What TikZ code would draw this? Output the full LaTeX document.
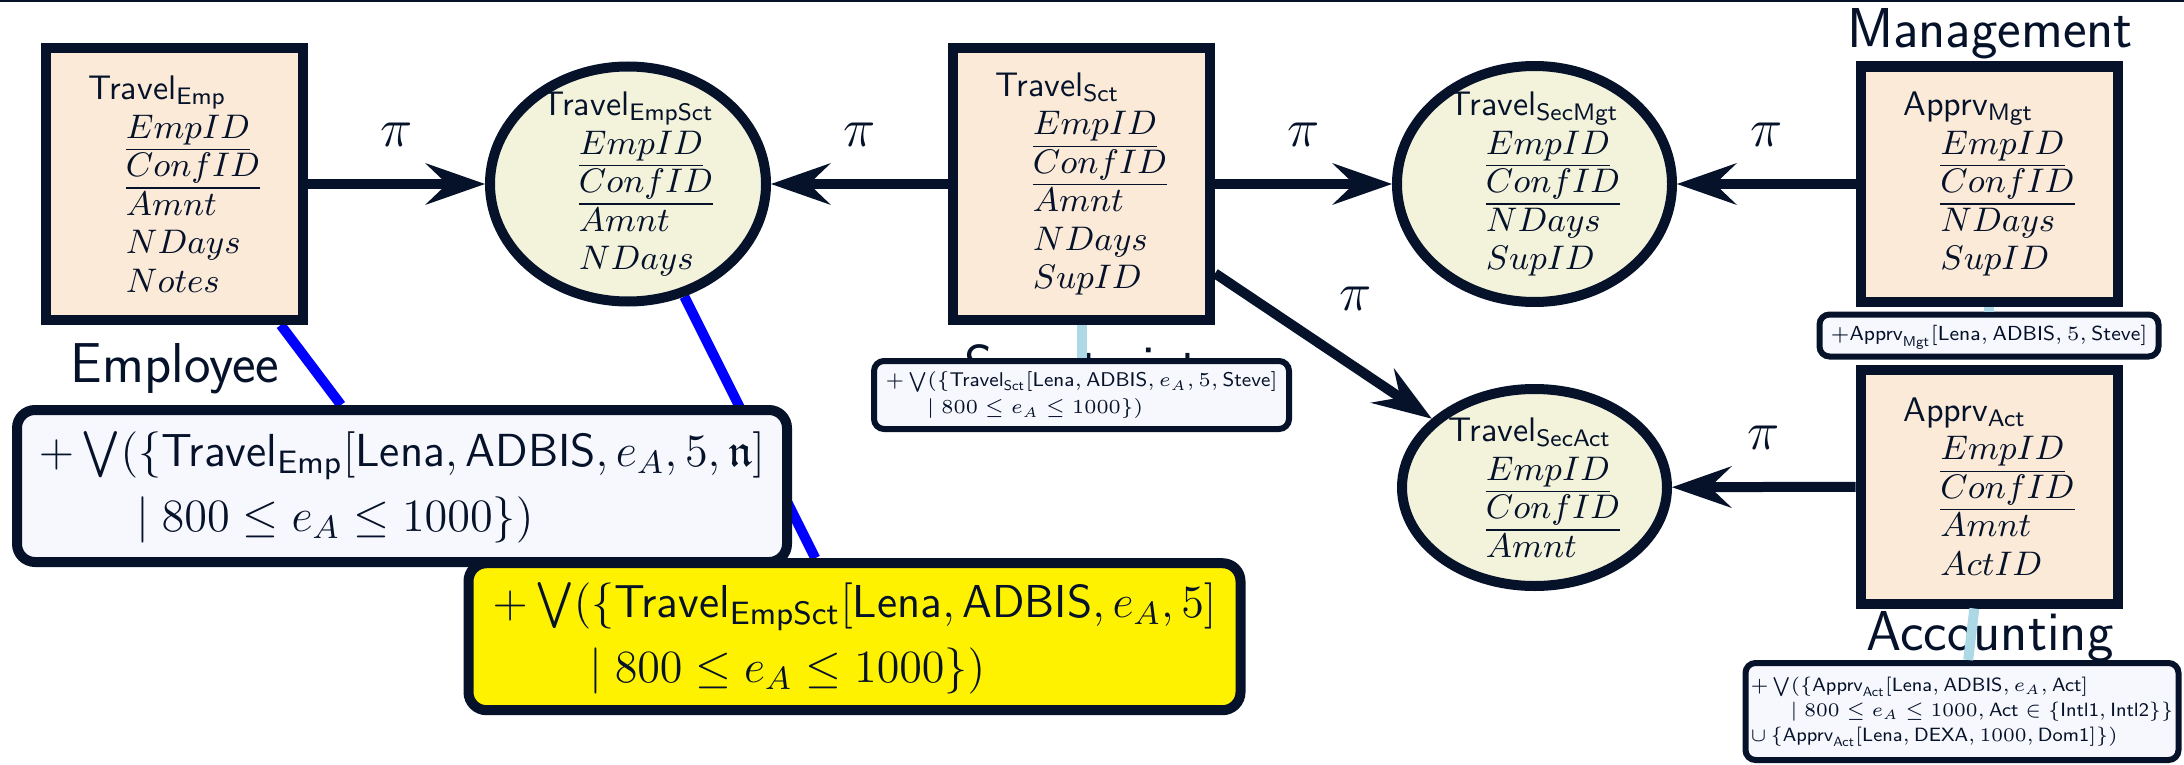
\RequirePackage{fix-cm}
\documentclass[tikz,border=0pt]{standalone}
\usepackage{amsmath, amssymb}
\usetikzlibrary{positioning, arrows.meta, shapes.geometric, backgrounds}
\definecolor{darkNavy}{HTML}{05122A}
\definecolor{relFill}{HTML}{FAEAD7}
\definecolor{viewFill}{HTML}{F3F3DC}
\definecolor{exprFill}{HTML}{F7F8FD}
\definecolor{linkBlue}{HTML}{ADD8E6}
\newcommand{\attr}[1]{\hspace*{0.37cm}$#1$}
\newcommand{\fitexpr}[2]{\resizebox{#1}{!}{\begin{tabular}{@{}l@{}}#2\end{tabular}}}

\begin{document}
\begin{tikzpicture}[darkNavy, node distance=1.77cm,
    relbox/.style={draw, line width=0.1cm, fill=relFill, minimum width=2.57cm,
      align=left, font=\fontsize{9.7}{10.95}\selectfont\sffamily},
    viewellipse/.style={ellipse, draw, line width=0.1cm, fill=viewFill, inner xsep=0pt,
      inner ysep=-0.2cm, align=left, font=\fontsize{9.7}{10.95}\selectfont\sffamily},
    exprbox/.style={draw, line width=0.1cm, rounded corners=0.18cm, fill=exprFill,
      inner sep=0.05cm, font=\fontsize{12.5}{17.6}\selectfont\sffamily},
    smallexpr/.style={exprbox, line width=0.06cm, rounded corners=0.1cm,
      font=\fontsize{6.3}{8.5}\selectfont\sffamily},
    rolelabel/.style={inner sep=0pt, anchor=base, font=\fontsize{16}{19}\selectfont\sffamily},
    projarrow/.style={line width=0.1cm,
      -{Stealth[length=0.6cm, width=0.42cm, inset=0.22cm, line width=0pt]}},
    pilabel/.style={yshift=0.49cm, font=\fontsize{15.5}{18}\selectfont},
    assocline/.style={blue, line width=0.1cm},
    linkline/.style={linkBlue, line width=0.1cm}]
  \useasboundingbox (0,0) rectangle (21.84,-7.65);
  \fill (0,0) rectangle (21.84,-0.02);

  % relations and views
  \node[relbox, minimum height=2.72cm] (travelEmp) at (1.745,-1.84)
    {Travel$_{\textsf{Emp}}$\\ \attr{\underline{EmpID}}\\ \attr{\underline{ConfID}}\\ \attr{Amnt}\\ \attr{NDays}\\ \attr{Notes}};
  \node[viewellipse, minimum width=2.76cm, minimum height=2.35cm, right=of travelEmp] (travelEmpSct)
    {Travel$_{\textsf{EmpSct}}$\\ \attr{\underline{EmpID}}\\ \attr{\underline{ConfID}}\\ \attr{Amnt}\\ \attr{NDays}};
  \node[relbox, minimum height=2.72cm, right=of travelEmpSct] (travelSct)
    {Travel$_{\textsf{Sct}}$\\ \attr{\underline{EmpID}}\\ \attr{\underline{ConfID}}\\ \attr{Amnt}\\ \attr{NDays}\\ \attr{SupID}};
  \node[viewellipse, minimum width=2.75cm, minimum height=2.36cm, right=of travelSct] (travelSecMgt)
    {Travel$_{\textsf{SecMgt}}$\\ \attr{\underline{EmpID}}\\ \attr{\underline{ConfID}}\\ \attr{NDays}\\ \attr{SupID}};
  \node[relbox, minimum height=2.35cm, right=1.785cm of travelSecMgt] (apprvMgt)
    {Apprv$_{\textsf{Mgt}}$\\ \attr{\underline{EmpID}}\\ \attr{\underline{ConfID}}\\ \attr{NDays}\\ \attr{SupID}};
  \node[viewellipse, minimum width=2.65cm, minimum height=1.97cm, below=0.77cm of travelSecMgt] (travelSecAct)
    {Travel$_{\textsf{SecAct}}$\\ \attr{\underline{EmpID}}\\ \attr{\underline{ConfID}}\\ \attr{Amnt}};
  \node[relbox, minimum height=2.34cm, below=0.58cm of apprvMgt] (apprvAct)
    {Apprv$_{\textsf{Act}}$\\ \attr{\underline{EmpID}}\\ \attr{\underline{ConfID}}\\ \attr{Amnt}\\ \attr{ActID}};

  % roles
  \node[rolelabel] (employeeLbl) at (1.75,-3.82) {Employee};
  \node[rolelabel] (secretariatLbl) at (10.82,-3.84) {Secretariat};
  \node[rolelabel] (managementLbl) at (19.90,-0.48) {Management};
  \node[rolelabel] (accountingLbl) at (19.90,-6.50) {Accounting};

  % insertions
  \node[exprbox, minimum width=7.70cm, minimum height=1.52cm] (empForm) at (4.02,-4.86)
    {\fitexpr{7.26cm}{$+\bigvee(\{\textsf{Travel}_{\textsf{Emp}}[\textsf{Lena},\textsf{ADBIS},e_A,5,\mathfrak{n}]$\\
     \hspace*{0.92cm}$\mid 800\leq e_A\leq 1000\})$}};
  \node[exprbox, fill=yellow, minimum width=7.72cm, minimum height=1.47cm] (empSctForm) at (8.545,-6.367)
    {\fitexpr{7.24cm}{$+\bigvee(\{\textsf{Travel}_{\textsf{EmpSct}}[\textsf{Lena},\textsf{ADBIS},e_A,5]$\\
     \hspace*{0.92cm}$\mid 800\leq e_A\leq 1000\})$}};
  \node[smallexpr, minimum width=4.15cm, minimum height=0.68cm, below=0.33cm of travelSct] (sctForm)
    {\fitexpr{3.92cm}{$+\bigvee(\{\textsf{Travel}_{\textsf{Sct}}[\textsf{Lena},\textsf{ADBIS},e_A,5,\textsf{Steve}]$\\
     \hspace*{0.46cm}$\mid 800\leq e_A\leq 1000\})$}};
  \node[smallexpr, minimum width=3.39cm, minimum height=0.42cm, below=0.05cm of apprvMgt] (mgtForm)
    {\fitexpr{3.17cm}{$+\textsf{Apprv}_{\textsf{Mgt}}[\textsf{Lena},\textsf{ADBIS},5,\textsf{Steve}]$}};
  \node[smallexpr, font=\fontsize{6.3}{8.2}\selectfont\sffamily, minimum width=4.32cm,
        minimum height=0.97cm] (actForm) at (19.62,-7.115)
    {\fitexpr{4.23cm}{$+\bigvee(\{\textsf{Apprv}_{\textsf{Act}}[\textsf{Lena},\textsf{ADBIS},e_A,\textsf{Act}]$\\
     \hspace*{0.46cm}$\mid 800\leq e_A\leq 1000,\textsf{Act}\in\{\textsf{Intl1},\textsf{Intl2}\}\}$\\
     $\cup\,\{\textsf{Apprv}_{\textsf{Act}}[\textsf{Lena},\textsf{DEXA},1000,\textsf{Dom1}]\})$}};

  % projections
  \draw[projarrow] (travelEmp) -- node[pilabel] {$\pi$} (travelEmpSct);
  \draw[projarrow] (travelSct) -- node[pilabel] {$\pi$} (travelEmpSct);
  \draw[projarrow] (travelSct) -- node[pilabel] {$\pi$} (travelSecMgt);
  \draw[projarrow] (travelSct) -- node[pilabel, xshift=0.32cm, yshift=-0.02cm] {$\pi$} (travelSecAct);
  \draw[projarrow] (apprvMgt) -- node[pilabel] {$\pi$} (travelSecMgt);
  \draw[projarrow] (apprvAct) -- node[pilabel] {$\pi$} (travelSecAct);

  % links to insertions
  \draw[linkline] (travelSct) -- (sctForm);
  \draw[linkline] (apprvMgt) -- (mgtForm);
  \draw[linkline] (apprvAct) -- (actForm);
  \begin{scope}[on background layer]
    \draw[assocline] (travelEmp) -- (empForm);
    \draw[assocline] (travelEmpSct) -- (empSctForm);
  \end{scope}
\end{tikzpicture}
\end{document}
